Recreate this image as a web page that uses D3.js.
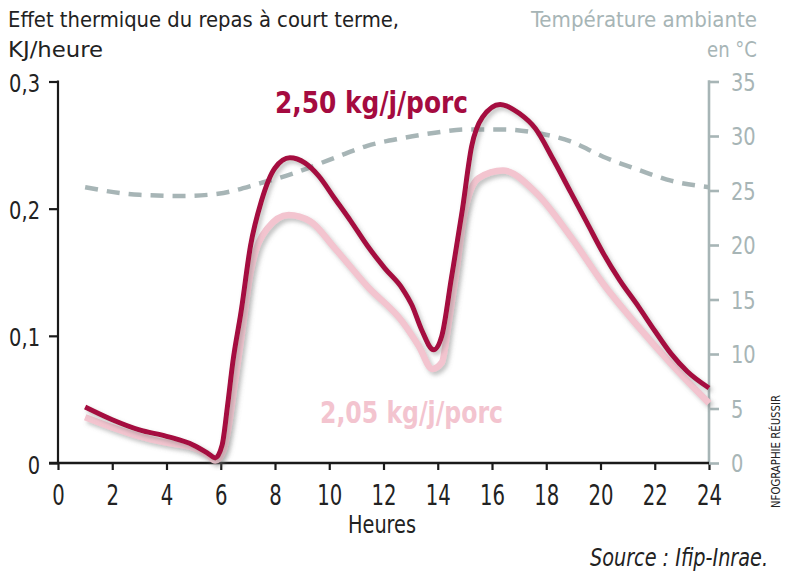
<!DOCTYPE html>
<html><head><meta charset="utf-8">
<script src="https://cdn.jsdelivr.net/npm/d3@7/dist/d3.min.js"></script>
<style>
html,body{margin:0;padding:0;background:#fff;}
svg{display:block;}
</style></head>
<body>
<script>
// ---- data ----
const hourTicks = [0,2,4,6,8,10,12,14,16,18,20,22,24];
const leftTicks = [0,0.1,0.2,0.3];
const leftTickLabels = ["0","0,1","0,2","0,3"];
const rightTicks = [0,5,10,15,20,25,30,35];

const heavyHours  = [1,2,3,4,5,5.5,5.8,6.05,6.25,6.45,6.75,7.1,7.5,8,8.55,9.1,9.6,10.2,10.8,11.4,12.05,12.7,13.05,13.4,13.85,14.15,14.5,14.9,15.25,15.65,16.3,17,17.6,18.25,18.9,19.5,20.1,20.7,21.4,22,22.6,23.2,24];
const heavyValues = [0.044,0.034,0.026,0.021,0.014,0.008,0.004,0.014,0.045,0.080,0.119,0.171,0.206,0.232,0.240,0.236,0.226,0.208,0.190,0.171,0.153,0.137,0.124,0.105,0.089,0.100,0.145,0.198,0.249,0.272,0.282,0.275,0.263,0.239,0.213,0.189,0.165,0.144,0.123,0.104,0.086,0.072,0.059];

const lightHours  = [1,2,3,4,5,5.5,5.8,6.1,6.3,6.5,6.8,7.1,7.7,8.5,9.3,10.2,11.4,12.7,13.3,13.8,14.15,14.4,14.65,15,15.5,16.4,17.6,18.9,20.1,21.4,22.6,24];
const lightValues = [0.036,0.028,0.021,0.016,0.012,0.007,0.002,0.010,0.030,0.060,0.105,0.150,0.184,0.195,0.190,0.169,0.139,0.111,0.092,0.074,0.079,0.110,0.145,0.198,0.224,0.230,0.213,0.178,0.141,0.107,0.078,0.047];

const tempHours  = [1,3,4.6,5.9,7.5,8.6,10.2,11.4,12.7,13.9,15.1,16.4,17.6,18.9,20.1,21.4,22.6,24];
const tempValues = [25.3,24.6,24.5,24.7,25.7,26.5,28.0,29.1,29.8,30.3,30.6,30.6,30.3,29.5,28.1,26.9,25.9,25.3];

const heavyLabel = "2,50 kg/j/porc";
const lightLabel = "2,05 kg/j/porc";

// ---- chart ----
const W = 792, H = 576;
const svg = d3.select("body").append("svg").attr("width", W).attr("height", H);

const x = d3.scaleLinear().domain([0,24]).range([58,709]);
const yL = d3.scaleLinear().domain([0,0.3]).range([463,81.5]);
const yR = d3.scaleLinear().domain([0,35]).range([463,81.5]);

const DARK = "#a50b40", PINK = "#f3c4cf", GRAY = "#a7b5b6";
const numFont = "'DejaVu Sans Condensed',sans-serif";
const txtFont = "'DejaVu Sans Condensed',sans-serif";

const defs = svg.append("defs");
const f = defs.append("filter").attr("id","sh").attr("x","-10%").attr("y","-10%").attr("width","130%").attr("height","130%");
f.append("feDropShadow").attr("dx",2.5).attr("dy",3).attr("stdDeviation",2.2)
  .attr("flood-color","#777").attr("flood-opacity",0.45);

function txt(s, xx, yy, opts) {
  const t = svg.append("text").attr("x", xx).attr("y", yy).text(s)
    .attr("font-family", opts.family || txtFont)
    .attr("font-size", opts.size)
    .attr("fill", opts.fill || "#222");
  if (opts.anchor) t.attr("text-anchor", opts.anchor);
  if (opts.weight) t.attr("font-weight", opts.weight);
  if (opts.style) t.attr("font-style", opts.style);
  if (opts.len) t.attr("textLength", opts.len).attr("lengthAdjust","spacingAndGlyphs");
  return t;
}
txt("Effet thermique du repas à court terme,", 8, 27, {size:21, len:391});
txt("KJ/heure", 8, 57, {size:21, len:95});
txt("Température ambiante", 757, 27, {size:21, anchor:"end", fill:GRAY, len:226});
txt("en °C", 757, 57, {size:21, anchor:"end", fill:GRAY, len:50});

// axes
const sxB = 0.78, sxS = 0.9;
const gx = svg.append("g").attr("transform","translate(0,463)")
  .call(d3.axisBottom(x).tickValues(hourTicks).tickSize(7).tickFormat(d=>String(d)));
gx.select(".domain").remove();
gx.selectAll(".tick line").attr("stroke","#1a1a1a").attr("stroke-width",2.2);
gx.selectAll(".tick text").attr("font-family",numFont).attr("font-size",28).attr("fill","#222")
  .attr("y",42.5).attr("dy",null).attr("transform",`scale(${sxB},1)`);

const gl = svg.append("g").attr("transform","translate(58,0)")
  .call(d3.axisLeft(yL).tickValues(leftTicks).tickSize(9).tickFormat((d,i)=>leftTickLabels[i]));
gl.select(".domain").remove();
gl.selectAll(".tick line").attr("stroke","#1a1a1a").attr("stroke-width",2.2);
gl.selectAll(".tick text").attr("font-family",numFont).attr("font-size",24).attr("fill","#222")
  .attr("x",-18/sxS).attr("dy","0.42em").attr("transform",`scale(${sxS},1)`);

const gr = svg.append("g").attr("transform","translate(709,0)")
  .call(d3.axisRight(yR).tickValues(rightTicks).tickSize(10));
gr.select(".domain").remove();
gr.selectAll(".tick line").attr("stroke",GRAY).attr("stroke-width",2.6);
gr.selectAll(".tick text").attr("font-family",numFont).attr("font-size",24).attr("fill",GRAY)
  .attr("x",22/sxS).attr("dy","0.37em").attr("transform",`scale(${sxS},1)`);

// axis lines
svg.append("line").attr("x1",709).attr("x2",709).attr("y1",yR(35)-1.3).attr("y2",463)
  .attr("stroke",GRAY).attr("stroke-width",2.6);
svg.append("line").attr("x1",58).attr("x2",58).attr("y1",yL(0.3)-1.1).attr("y2",463)
  .attr("stroke","#1a1a1a").attr("stroke-width",2.2);
svg.append("line").attr("x1",49).attr("x2",709).attr("y1",463).attr("y2",463)
  .attr("stroke","#1a1a1a").attr("stroke-width",2.4);

// lines
const lineL = d3.line().x(d=>x(d[0])).y(d=>yL(d[1])).curve(d3.curveMonotoneX);
const lineR = d3.line().x(d=>x(d[0])).y(d=>yR(d[1])).curve(d3.curveMonotoneX);

svg.append("path").datum(d3.zip(tempHours,tempValues)).attr("d",lineR)
  .attr("fill","none").attr("stroke",GRAY).attr("stroke-width",4.5)
  .attr("stroke-dasharray","13,9").attr("stroke-linecap","butt");

svg.append("path").datum(d3.zip(lightHours,lightValues)).attr("d",lineL)
  .attr("fill","none").attr("stroke",PINK).attr("stroke-width",6.5)
  .attr("stroke-linejoin","round").attr("filter","url(#sh)");

svg.append("path").datum(d3.zip(heavyHours,heavyValues)).attr("d",lineL)
  .attr("fill","none").attr("stroke",DARK).attr("stroke-width",5)
  .attr("stroke-linejoin","round").attr("filter","url(#sh)");

// series labels
txt(heavyLabel, 275, 113, {size:30, weight:"bold", fill:DARK, len:193});
txt(lightLabel, 320, 423, {size:30, weight:"bold", fill:PINK, len:183});

// footer
txt("Heures", 382, 533, {size:25, anchor:"middle", len:68});
txt("Source : Ifip-Inrae.", 768, 566, {size:24, anchor:"end", style:"italic", len:178});
svg.append("text").attr("transform","translate(780,508) rotate(-90)")
  .text("NFOGRAPHIE RÉUSSIR").attr("font-family","'DejaVu Sans Condensed',sans-serif")
  .attr("font-size",11.5).attr("fill","#222").attr("textLength",113).attr("lengthAdjust","spacingAndGlyphs");
</script>
</body></html>
